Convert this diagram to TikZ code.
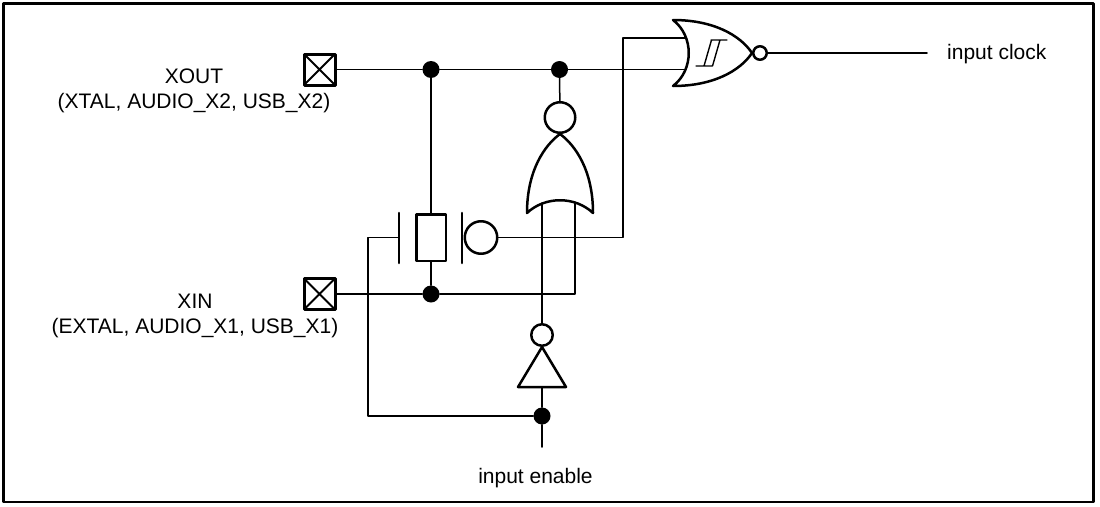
\documentclass[tikz,border=0pt]{standalone}
\usepackage{fontspec}
\setmainfont{Liberation Sans}
\begin{document}
\begin{tikzpicture}[x=1pt,y=-1pt,font=\fontsize{21}{25}\selectfont, line join=round, line cap=round,
	wire/.style={line width=1.5pt},
	gate/.style={line width=2.5pt},
	pad/.style={draw,line width=3pt,minimum size=31pt,inner sep=0pt,
		path picture={\draw[line width=1.8pt] (path picture bounding box.north west)--(path picture bounding box.south east)
			(path picture bounding box.north east)--(path picture bounding box.south west);}},
	dot/.style={circle,fill,inner sep=0pt,minimum size=17pt},
	bubble/.style={circle,draw,gate,inner sep=0pt}]
	%%Khung
	\useasboundingbox (0,0) rectangle (1100,506);
	\draw[line width=2.8pt] (3.5,3.5) rectangle (1093.5,502);
	\def \ytop{69.5}
	\def \ybot{294}
	%%Chan ra
	\node[pad] (xout) at (319.5,\ytop) {};
	\node[pad] (xin) at (319.5,\ybot) {};
	\node[align=center,inner sep=0pt] (lout) at (194,90.5) {XOUT\\(XTAL, AUDIO\_X2, USB\_X2)};
	\node[align=center,inner sep=0pt] (lin) at (195,316) {XIN\\(EXTAL, AUDIO\_X1, USB\_X1)};
	%%Nut
	\node[dot] (d1) at (431,\ytop) {};
	\node[dot] (d2) at (559.5,\ytop) {};
	\node[dot] (d3) at (431,\ybot) {};
	\node[dot] (d4) at (542,416) {};
	%%Thach anh
	\node[draw,gate,minimum width=29.5pt,minimum height=46.5pt,inner sep=0pt] (xtal) at (431,237.5) {};
	\draw[line width=2.6pt] (399,213)--(399,263) (462,213)--(462,263);
	\coordinate (plL) at (399,237.5);
	\node[bubble,minimum size=32.5pt] (ring) at (481,237.5) {};
	%%Cong OR dung
	\draw[gate] (527,213) .. controls (527,170) and (545,145) .. (560,134)
		.. controls (575,145) and (593,170) .. (593,213)
		.. controls (575,196) and (545,196) .. (527,213) -- cycle;
	\node[bubble,minimum size=30.5pt] (nb) at (560,117.5) {};
	\coordinate (or1) at (542,203);
	\coordinate (or2) at (575,202);
	%%Cong dao
	\node[bubble,minimum size=21.5pt] (ib) at (542,335) {};
	\draw[gate] (542,347)--(566,387)--(518,387)--cycle;
	\coordinate (tri) at (542,387);
	\coordinate (ie) at (542,447);
	%%Cong NOR Schmitt
	\draw[gate] (673,20) .. controls (694,36) and (694,70) .. (673,86)
		.. controls (713,86) and (740,71) .. (752,53)
		.. controls (740,35) and (713,20) .. (673,20) -- cycle;
	\draw[line width=1.4pt] (696,66)--(712.5,66) (704,66)--(711.5,40) (712.5,66)--(720,40) (711,40)--(727,40);
	\node[bubble,minimum size=13.5pt] (nob) at (760,53) {};
	\coordinate (nin1) at (686,38);
	\coordinate (nin2) at (686,\ytop);
	\coordinate (clk) at (927,53);
	%%Day noi
	\draw[wire] (xout)--(d1)--(d2)--(nin2);
	\draw[wire] (d1)--(xtal) (xtal)--(d3);
	\draw[wire] (xin)--(d3)--(or2 |- d3)--(or2);
	\draw[wire] (d2)--(nb);
	\draw[wire] (plL) -| (368,416)--(d4);
	\draw[wire] (ring)--(623,237.5) |- (nin1);
	\draw[wire] (or1)--(ib);
	\draw[wire] (tri)--(d4)--(ie);
	\draw[wire] (nob)--(clk);
	%%Nhan
	\node[anchor=base west,inner sep=0pt] (lclk) at (947,59) {input clock};
	\node[anchor=base,inner sep=0pt] (len) at (535.5,483) {input enable};
\end{tikzpicture}
\end{document}
